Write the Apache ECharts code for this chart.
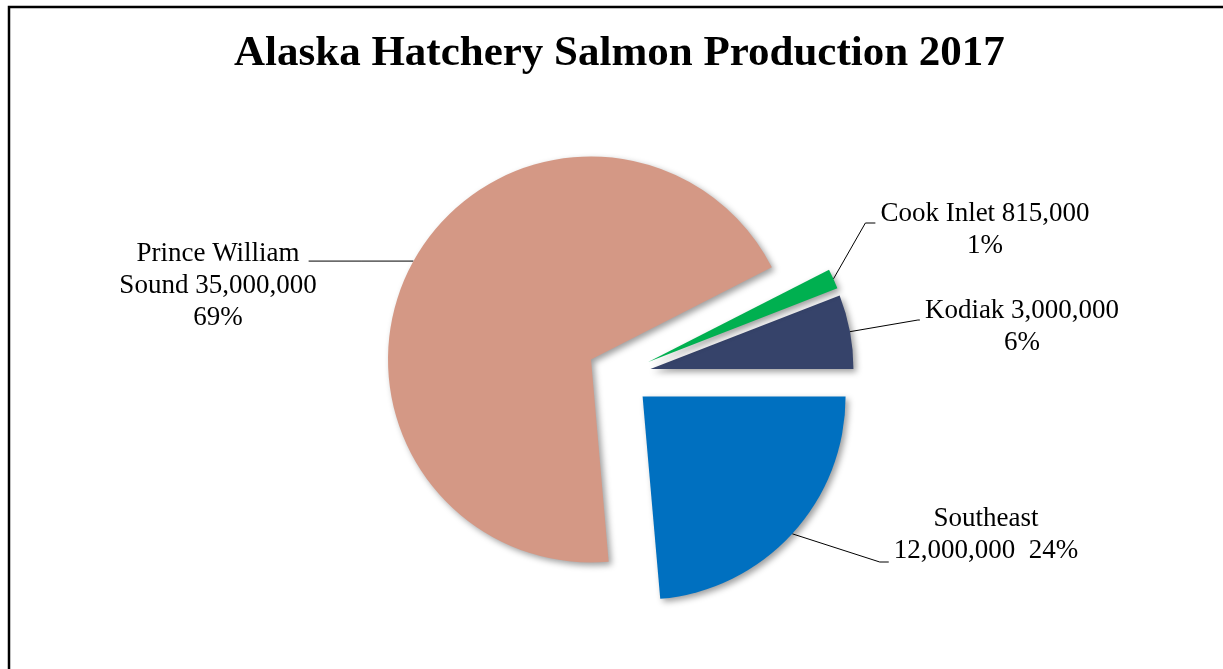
<!DOCTYPE html>
<html>
<head>
    <meta charset="utf-8">
    <title>Alaska Hatchery Salmon Production 2017</title>
    <script src="https://cdn.jsdelivr.net/npm/echarts@6/dist/echarts.min.js"></script>
    <style>
        html, body { margin: 0; padding: 0; background: #fff; }
    </style>
</head>
<body>
    <div id="main" style="width: 1223px;height:669px;"></div>
    <script type="text/javascript">
        // data
        var regions = ['Southeast', 'Prince William Sound', 'Cook Inlet', 'Kodiak'];
        var fish = [12000000, 35000000, 815000, 3000000];
        var pctText = ['24%', '69%', '1%', '6%'];
        var colors = ['#0070C0', '#D49885', '#00B050', '#36436A'];

        // label blocks (center x, top y)
        var labelPos = [[986, 503], [218, 238], [985, 198], [1022, 295]];
        // where the leader meets the label: side, y below label top, elbow length
        var leader = [['left', 59, 9], ['right', null, 0], ['left', 25, 10], ['left', 25, 2]];

        var cx = 619, cy = 375, R = 203, explode = 32;

        var fmt = function (v) { return v.toLocaleString('en-US'); };
        var labelText = function (i) {
            var n = fmt(fish[i]);
            if (i === 0) return regions[0] + '\n' + n + '  ' + pctText[0];
            if (i === 1) return 'Prince William\nSound ' + n + '\n' + pctText[1];
            return regions[i] + ' ' + n + '\n' + pctText[i];
        };

        // each slice is its own pie series, pushed out along its mid angle
        var total = fish.reduce(function (a, b) { return a + b; }, 0);
        var acc = 0;
        var midAngle = fish.map(function (v) {
            var m = (acc + v / 2) / total * Math.PI * 2;
            acc += v;
            return m;
        });

        var hidden = { color: 'rgba(0,0,0,0)', shadowColor: 'rgba(0,0,0,0)' };

        var layoutLabel = function (p) {
            var i = p.dataIndex;
            var pos = labelPos[i];
            var w = p.labelRect.width;
            var start = p.labelLinePoints ? p.labelLinePoints[0] : null;
            var out = { x: pos[0], y: pos[1], align: 'center', verticalAlign: 'top' };
            if (start) {
                var L = leader[i], end, elbow;
                if (L[0] === 'right') {
                    end = [pos[0] + w / 2 - 8, start[1]];
                    elbow = [(start[0] + end[0]) / 2, start[1]];
                } else {
                    end = [pos[0] - w / 2 - 5, pos[1] + L[1]];
                    elbow = [end[0] - L[2], end[1]];
                }
                out.labelLinePoints = [start, elbow, end];
            }
            return out;
        };

        var makeSeries = function (k) {
            return {
                type: 'pie',
                center: [cx + explode * Math.cos(midAngle[k]), cy + explode * Math.sin(midAngle[k])],
                radius: R,
                startAngle: 0,
                clockwise: true,
                avoidLabelOverlap: false,
                silent: true,
                emphasis: { disabled: true },
                label: {
                    fontFamily: 'Liberation Serif',
                    fontSize: 27,
                    lineHeight: 32,
                    color: '#000',
                    align: 'center',
                    formatter: function (p) { return labelText(p.dataIndex); }
                },
                labelLine: {
                    length: 20,
                    length2: 20,
                    lineStyle: { color: '#000', width: 1 }
                },
                labelLayout: layoutLabel,
                data: regions.map(function (r, i) {
                    var mine = i === k;
                    return {
                        name: r,
                        value: fish[i],
                        itemStyle: mine ? {
                            color: colors[i],
                            shadowBlur: 6,
                            shadowOffsetX: 3,
                            shadowOffsetY: 3,
                            shadowColor: 'rgba(0,0,0,0.38)'
                        } : hidden,
                        label: { show: mine },
                        labelLine: { show: mine }
                    };
                })
            };
        };

        var myChart = echarts.init(document.getElementById('main'));

        var option = {
            animation: false,
            backgroundColor: '#fff',
            title: {
                text: 'Alaska Hatchery Salmon Production 2017',
                left: 229,
                top: 27,
                textStyle: {
                    fontFamily: 'Liberation Serif',
                    fontWeight: 'bold',
                    fontSize: 43,
                    color: '#000'
                }
            },
            graphic: [{
                type: 'rect',
                shape: { x: 9, y: 7, width: 1300, height: 700 },
                style: { fill: null, stroke: '#000', lineWidth: 2.5 },
                silent: true
            }],
            // draw order: Cook Inlet last so its shadow lies on Kodiak
            series: [0, 1, 3, 2].map(makeSeries)
        };

        myChart.setOption(option);
    </script>
</body>
</html>
